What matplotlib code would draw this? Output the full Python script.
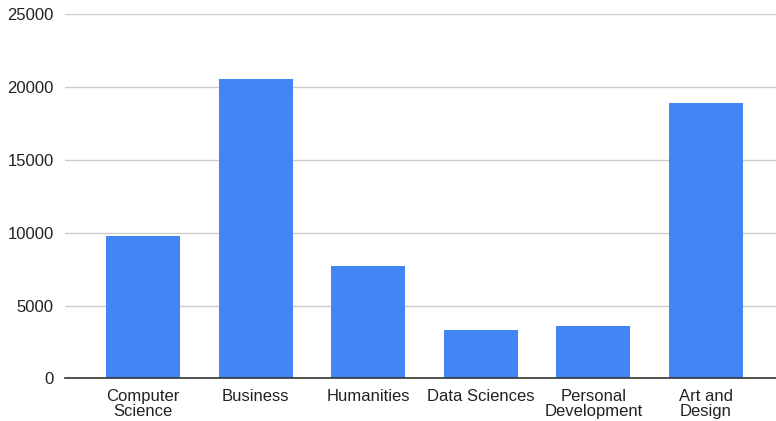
import matplotlib
matplotlib.use("Agg")
import matplotlib.pyplot as plt

categories = ["Computer\nScience", "Business", "Humanities", "Data Sciences",
              "Personal\nDevelopment", "Art and\nDesign"]
values = [9800, 20550, 7730, 3310, 3610, 18920]
y_ticks = [0, 5000, 10000, 15000, 20000, 25000]

plt.rcParams["font.family"] = ["Liberation Sans", "DejaVu Sans"]

W, H = 776, 421
fig = plt.figure(figsize=(W / 100, H / 100), dpi=100)
ax = fig.add_axes([65 / W, 1 - 378.3 / H, (W - 65) / W, (378.3 - 14.3) / H])

x = list(range(len(categories)))
ax.bar(x, values, width=0.658, color="#4285F4", zorder=3)

ax.set_xlim(-0.694, 5.623)
ax.set_ylim(0, 25000)
ax.set_yticks(y_ticks)
ax.set_yticklabels([str(v) for v in y_ticks])
ax.set_xticks(x)
ax.set_xticklabels(categories, linespacing=0.95)

ax.grid(axis="y", color="#cccccc", linewidth=1.0, zorder=0)
for side in ["top", "right", "left"]:
    ax.spines[side].set_visible(False)
ax.spines["bottom"].set_color("#333333")
ax.spines["bottom"].set_linewidth(1.2)
ax.spines["bottom"].set_zorder(4)

ax.tick_params(axis="both", length=0, labelsize=12, colors="#222222")
ax.tick_params(axis="y", pad=8)
ax.tick_params(axis="x", pad=8)

fig.savefig("out.png", dpi=100)
